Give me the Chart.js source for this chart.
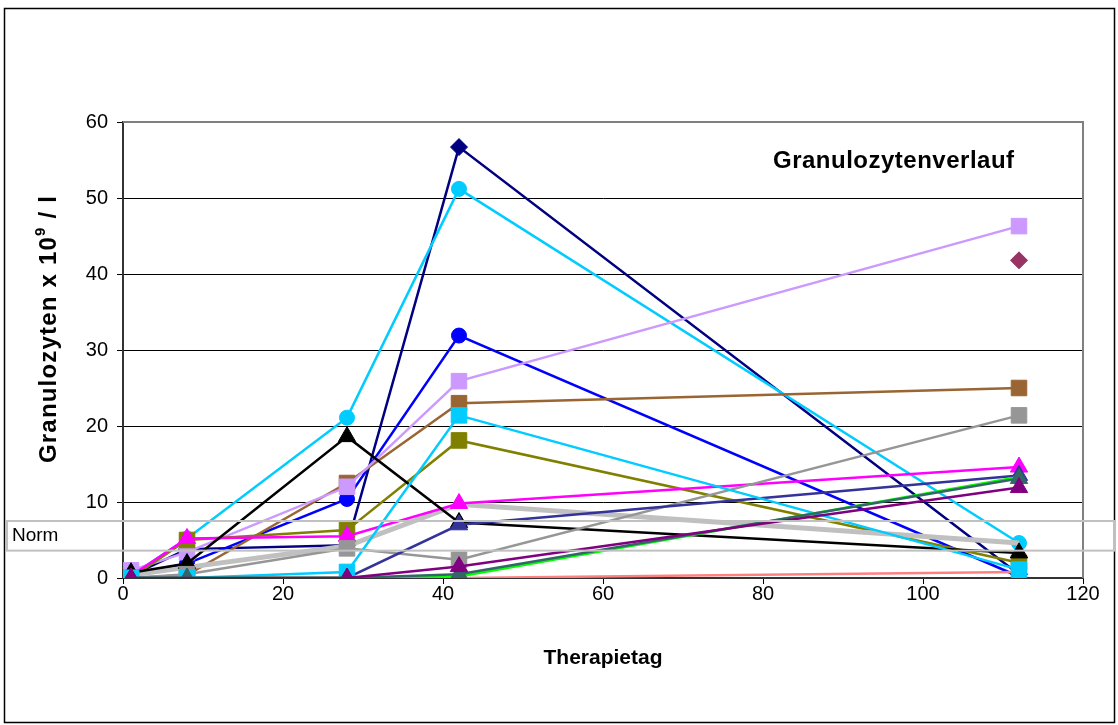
<!DOCTYPE html>
<html>
<head>
<meta charset="utf-8">
<script src="https://cdn.jsdelivr.net/npm/chart.js@4/dist/chart.umd.min.js"></script>
<style>
  html, body { margin: 0; padding: 0; background: #fff; }
  canvas { display: block; }
</style>
</head>
<body>
<canvas id="chart" width="1118" height="725"></canvas>
<script>
// Therapietage (x) und Granulozyten x 10^9/l je Patient (y)
const days = [1, 8, 28, 42, 112];
const xTicks = [0, 20, 40, 60, 80, 100, 120];
const yTicks = [0, 10, 20, 30, 40, 50, 60];
const normRange = [3.6, 7.5];

const patPurple    = [0, null, 0, 1.5, 11.9];
const patTeal      = [0, 0, 0, 0.5, 13.1];
const patGreen     = [0, 0, 0, 0.2, 13.3];
const patCyanSq    = [0, 0, 0.8, 21.4, 1.1];
const patSalmon    = [0, 0, 0, 0, 0.8];
const patSlate     = [0, 0, 0, 7.0, 13.5];
const patGray      = [0, 0.5, 3.9, 2.4, 21.4];
const patBlack     = [0.7, 1.9, 18.6, 7.3, 3.3];
const patPink      = [0.3, 5.2, 5.5, 9.8, 14.6];
const patLightGray = [0.4, 1.4, 4.2, 9.7, 4.6];
const patOlive     = [0, 5.0, 6.3, 18.1, 2.0];
const patLavender  = [1.0, 3.4, 12.0, 25.9, 46.3];
const patBrown     = [0, 0.4, 12.5, 23.0, 25.0];
const patCyanCirc  = [0.3, 5.2, 21.1, 51.2, 4.6];
const patBlue      = [0.3, 1.9, 10.4, 31.9, 0.2];
const patNavy      = [0.3, 3.8, 4.3, 56.7, 0.5];
const patPlum      = [null, null, null, null, 41.8];

const FONT = "Arial, 'Liberation Sans', Helvetica, sans-serif";

function series(label, vals, color, style, radius, width) {
  return {
    label: label,
    data: days.map((d, i) => ({ x: d, y: vals[i] })),
    borderColor: color,
    backgroundColor: color,
    pointBackgroundColor: color,
    pointBorderColor: color,
    pointBorderWidth: 1,
    pointStyle: style,
    pointRadius: radius,
    borderWidth: width || 2.5,
    tension: 0,
    spanGaps: true,
    fill: false
  };
}

// erster Datensatz liegt oben
const datasets = [
  series("P1", patPurple, "#800080", "triangle", 10),
  series("P2", patTeal, "#336666", "triangle", 10),
  series("P3", patGreen, "#00FF00", "circle", 0),
  series("P4", patCyanSq, "#00CCFF", "rect", 11),
  series("P5", patSalmon, "#FF8080", "circle", 7.5),
  series("P6", patSlate, "#333399", "triangle", 10),
  series("P7", patGray, "#969696", "rect", 11),
  series("P8", patBlack, "#000000", "triangle", 10),
  series("P9", patPink, "#FF00FF", "triangle", 10),
  series("P10", patLightGray, "#C0C0C0", "circle", 0, 5),
  series("P11", patOlive, "#808000", "rect", 11),
  series("P12", patLavender, "#CC99FF", "rect", 11),
  series("P13", patBrown, "#996633", "rect", 11),
  series("P14", patCyanCirc, "#00CCFF", "circle", 7.5),
  series("P15", patBlue, "#0000FF", "circle", 7.5),
  series("P16", patNavy, "#000080", "rectRot", 8.5),
  series("P17", patPlum, "#993366", "rectRot", 8.5)
];

const decor = {
  id: "decor",
  beforeDraw(chart) {
    const ctx = chart.ctx;
    ctx.save();
    ctx.fillStyle = "#fff";
    ctx.fillRect(0, 0, chart.width, chart.height);
    ctx.strokeStyle = "#000";
    ctx.lineWidth = 1.5;
    ctx.strokeRect(4.5, 8.5, 1110, 714);
    ctx.restore();
  },
  beforeDatasetsDraw(chart) {
    const { ctx, chartArea: a } = chart;
    ctx.save();
    ctx.strokeStyle = "#808080";
    ctx.lineWidth = 2;
    ctx.beginPath();
    ctx.moveTo(a.left, a.top);
    ctx.lineTo(a.right, a.top);
    ctx.lineTo(a.right, a.bottom);
    ctx.stroke();
    ctx.restore();
  },
  afterDatasetsDraw(chart) {
    const { ctx, chartArea: a, scales } = chart;
    ctx.save();
    // Normbereich
    const yTop = scales.y.getPixelForValue(normRange[1]);
    const yBot = scales.y.getPixelForValue(normRange[0]);
    ctx.strokeStyle = "#C0C0C0";
    ctx.lineWidth = 2;
    ctx.strokeRect(7, yTop, 1108, yBot - yTop);
    ctx.fillStyle = "#000";
    ctx.font = "19px " + FONT;
    ctx.textBaseline = "middle";
    ctx.textAlign = "left";
    ctx.fillText("Norm", 12, (yTop + yBot) / 2);

    // Titel
    ctx.font = "bold 24px " + FONT;
    ctx.letterSpacing = "0.5px";
    ctx.textAlign = "left";
    ctx.fillText("Granulozytenverlauf", 773, 161);
    ctx.letterSpacing = "0px";

    // x-Achsentitel
    ctx.font = "bold 21px " + FONT;
    ctx.textAlign = "center";
    ctx.fillText("Therapietag", (a.left + a.right) / 2, 658);

    // y-Achsentitel mit Hochzahl
    const p1 = "Granulozyten x 10", p2 = "9", p3 = " / l";
    ctx.letterSpacing = "1.2px";
    ctx.font = "bold 24px " + FONT;
    const w1 = ctx.measureText(p1).width, w3 = ctx.measureText(p3).width;
    ctx.font = "bold 15px " + FONT;
    const w2 = ctx.measureText(p2).width;
    const total = w1 + w2 + w3;
    ctx.translate(47, 329);
    ctx.rotate(-Math.PI / 2);
    ctx.textAlign = "left";
    ctx.textBaseline = "alphabetic";
    let x = -total / 2;
    ctx.font = "bold 24px " + FONT;
    ctx.fillText(p1, x, 9);
    x += w1;
    ctx.font = "bold 15px " + FONT;
    ctx.fillText(p2, x, -2);
    x += w2;
    ctx.font = "bold 24px " + FONT;
    ctx.fillText(p3, x, 9);
    ctx.restore();
  }
};

new Chart(document.getElementById("chart"), {
  type: "line",
  data: { datasets: datasets },
  options: {
    responsive: false,
    animation: false,
    layout: { padding: { left: 0, right: 35, top: 122, bottom: 0 } },
    plugins: {
      legend: { display: false },
      tooltip: { enabled: false },
      title: { display: false }
    },
    scales: {
      x: {
        type: "linear",
        min: 0,
        max: 120,
        afterBuildTicks: s => { s.ticks = xTicks.map(v => ({ value: v })); },
        afterFit: s => { s.height = 147; s.paddingLeft = 0; s.paddingRight = 0; },
        ticks: { color: "#000", font: { family: FONT, size: 20 }, padding: -2, maxRotation: 0 },
        grid: { drawOnChartArea: false, drawTicks: true, tickLength: 6, color: "#000", lineWidth: 1 },
        border: { color: "#333", width: 2 }
      },
      y: {
        type: "linear",
        min: 0,
        max: 60,
        afterBuildTicks: s => { s.ticks = yTicks.map(v => ({ value: v })); },
        afterFit: s => { s.width = 123; s.paddingTop = 0; s.paddingBottom = 0; },
        ticks: { color: "#000", font: { family: FONT, size: 20 }, padding: 9 },
        grid: { color: "#000", lineWidth: 1, tickLength: 6 },
        border: { color: "#333", width: 2 }
      }
    }
  },
  plugins: [decor]
});
</script>
</body>
</html>
